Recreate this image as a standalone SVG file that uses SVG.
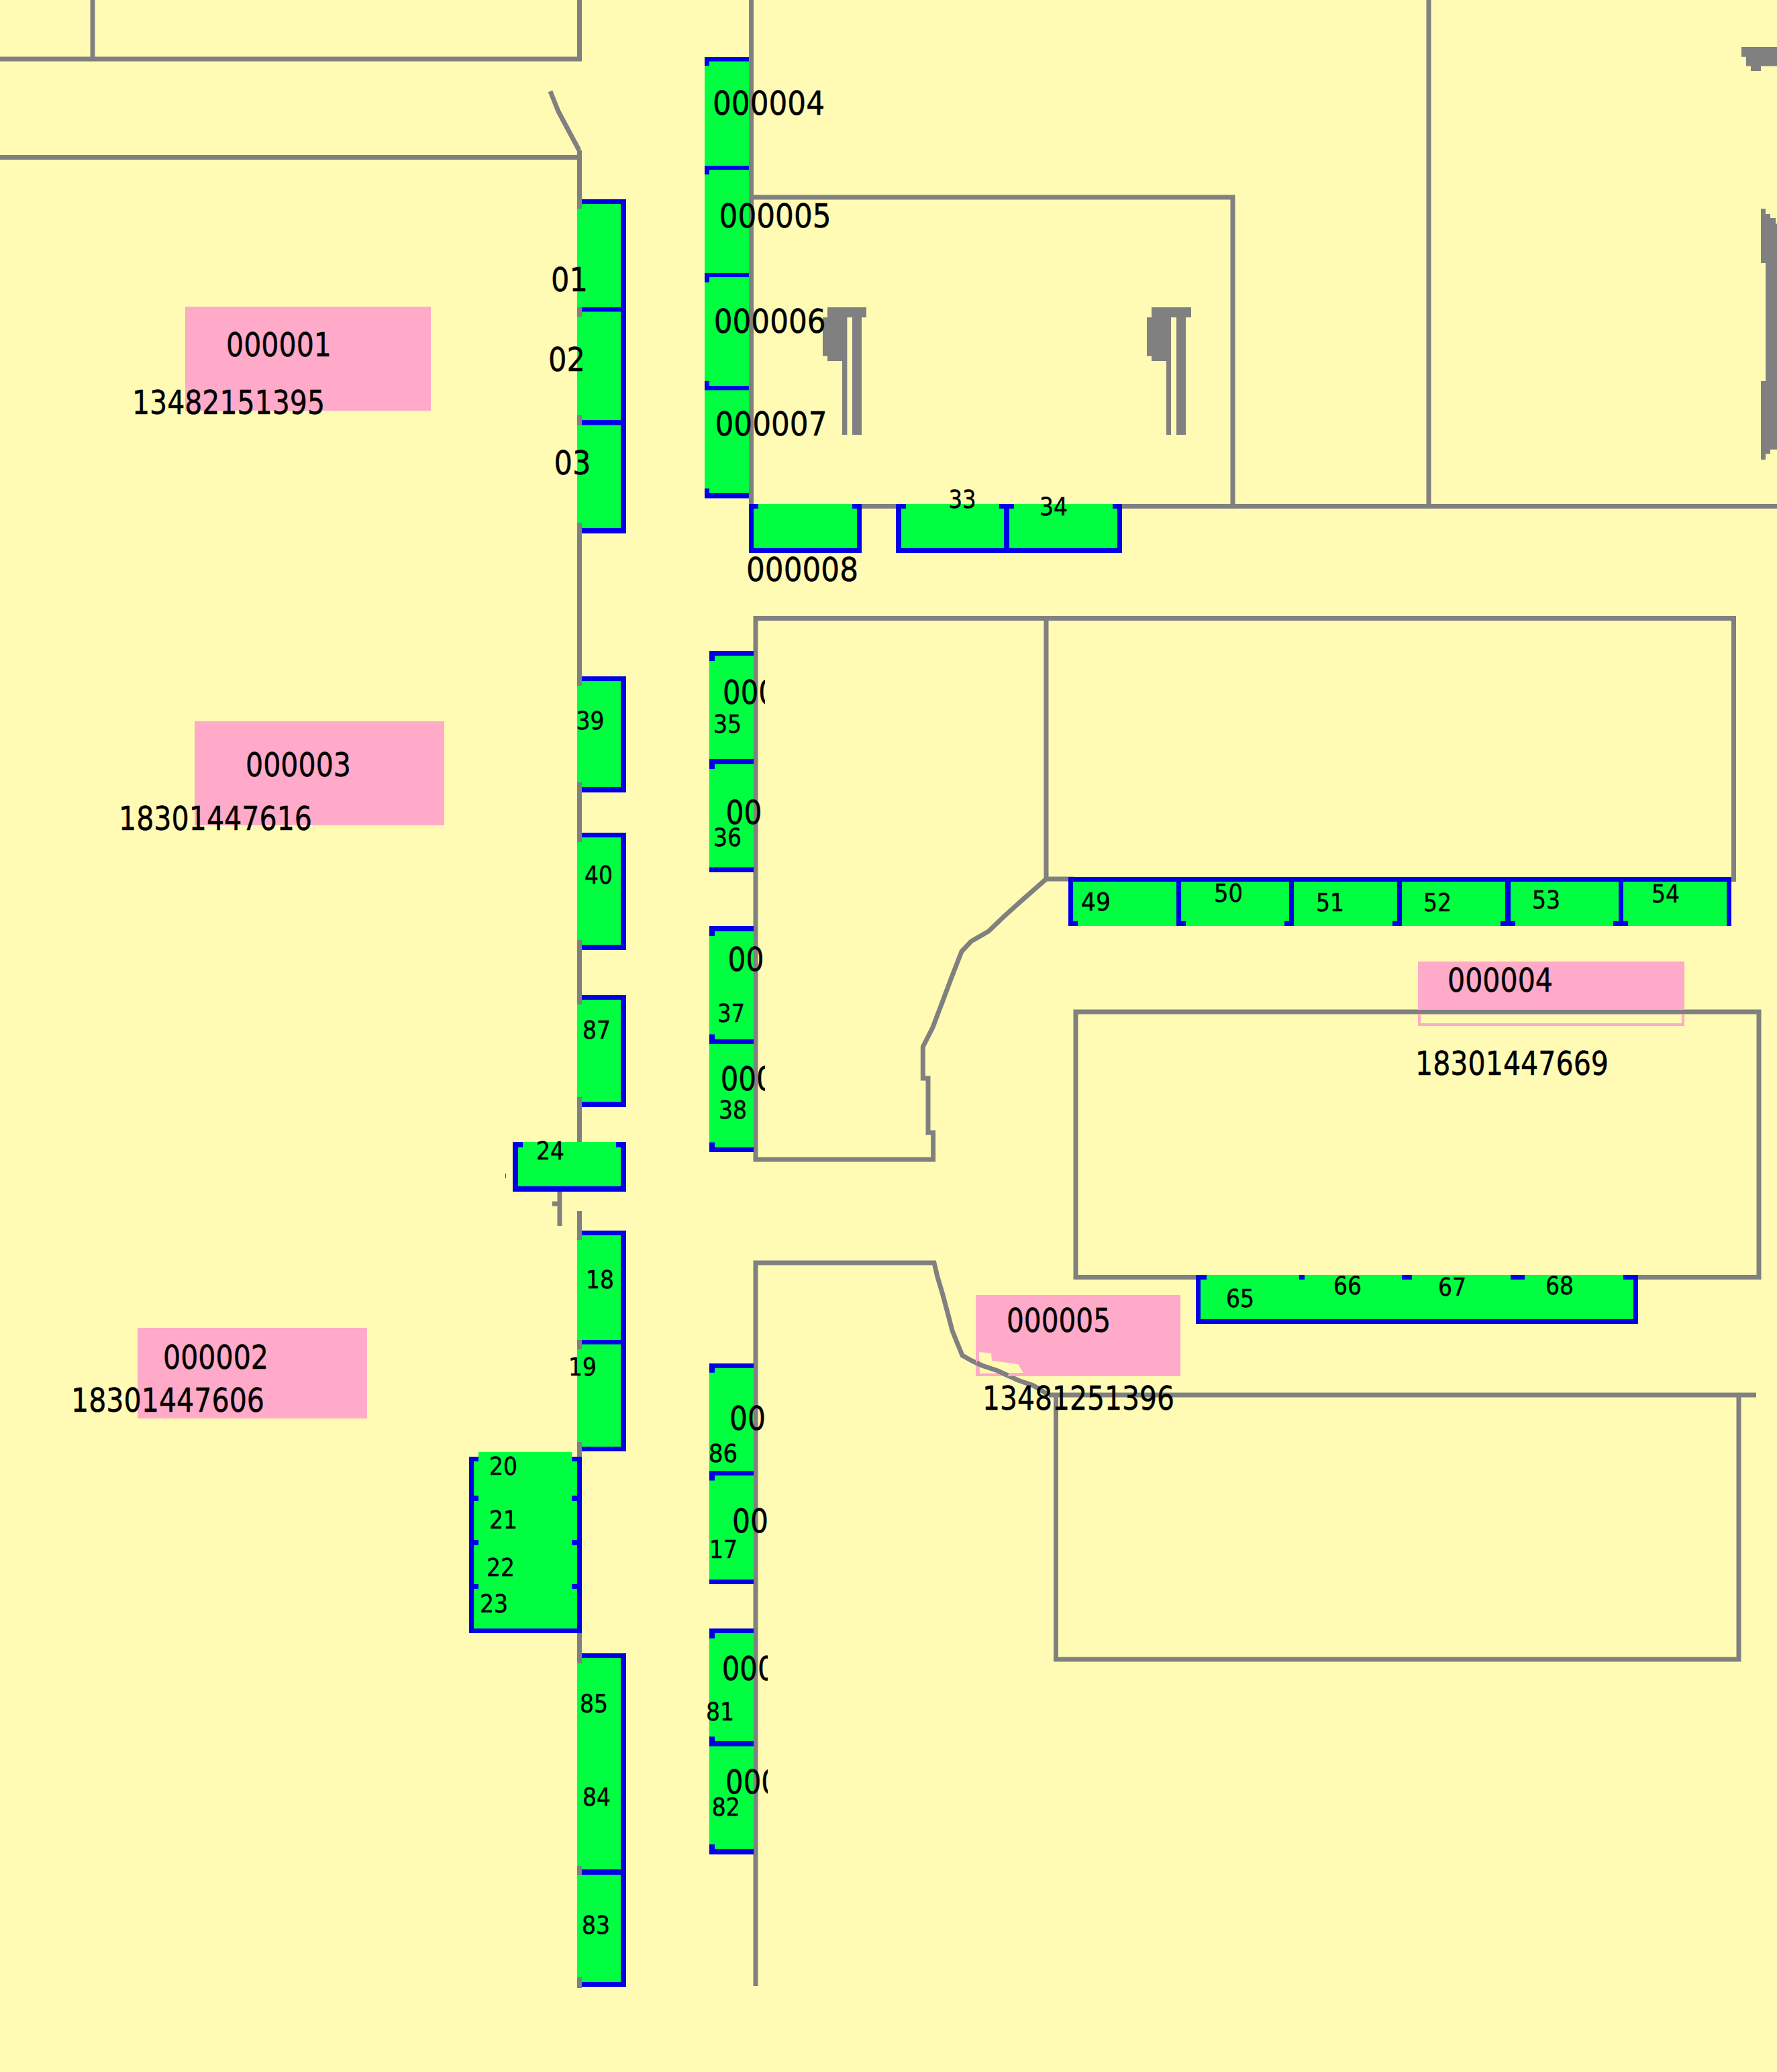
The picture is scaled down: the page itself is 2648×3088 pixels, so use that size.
<svg xmlns="http://www.w3.org/2000/svg" width="2648" height="3088" viewBox="0 0 2648 3088">
<style>
.w{fill:none;stroke:#808080;stroke-width:7}
.f{fill:#808080}
.b{fill:#0000e6}
.g{fill:#00ff40}
.p{fill:#ffaac8}
text{font-family:"DejaVu Sans","Noto Sans",sans-serif;fill:#000;stroke:#000;stroke-width:.5}
.t{font-size:50px}
.s{font-size:38px}
</style>
<defs>
<clipPath id="c1"><rect x="1000" y="900" width="140" height="900"/></clipPath>
<clipPath id="c2"><rect x="1000" y="2000" width="144" height="800"/></clipPath>
</defs>
<rect width="2648" height="3088" fill="#fffbb4"/>
<g id="connectors">
<path class="w" d="M138 0V88M0 88H863.5V0"/>
<path class="w" d="M0 234.5H863.5"/>
<path class="w" d="M820 136L832 166L848 196L863 224"/>
<path class="w" d="M863.5 224V1702"/>
<path class="w" d="M863.5 1805V2963"/>
<path class="w" d="M834 1768V1827M834 1794H823"/>
<path class="w" d="M1119.500 0V754.500H2648"/>
<path class="w" d="M1119.500 294H1837V754.500"/>
<path class="w" d="M2129 0V754.500"/>
<path class="w" d="M1559 1310L1526 1339L1497 1365L1473 1388L1447 1403L1433 1418L1418.600 1455L1404 1494L1390 1531L1375.300 1560V1607H1383V1688H1390.600V1728H1126V921.500H2583.500V1314"/>
<path class="w" d="M1559 921.500V1310H1600"/>
<path class="w" d="M1126 2960V1882H1392L1397 1903L1405 1930L1413 1960L1419 1983L1427 2003L1434 2020L1448 2028L1463 2035L1487 2043L1517 2057L1540 2065L1563 2079"/>
<path class="w" d="M1563 2079H2617M1573.500 2079V2473H2591V2079"/>
<path class="w" d="M1603 1508H2621V1903.500H1603Z"/>
<path class="f" d="M1233 458H1291V473H1284V648H1270V473H1262.400V648H1255V538H1233V530.700H1226V473H1233Z"/>
<path class="f" d="M1716 458H1775V473H1767V648H1753V473H1745V648H1738V538H1716V530.700H1709V473H1716Z"/>
<path class="f" d="M2595 70H2648V98.500H2624V106H2609V98.500H2602V84.700H2595Z"/>
<path class="f" d="M2624 311H2631V319H2638V325H2646V333.600H2648V670H2638V676.600H2631V685H2624V568H2631V392H2624Z"/>
<rect x="753" y="1749" width="1" height="7" fill="#335566"/>
</g>
<g id="p1"><rect class="p" x="276" y="457" width="366" height="155"/><text class="t" x="337" y="531" textLength="157" lengthAdjust="spacingAndGlyphs">000001</text><text class="t" x="197" y="617" textLength="287" lengthAdjust="spacingAndGlyphs">13482151395</text></g>
<g id="p3"><rect class="p" x="290" y="1075" width="372" height="155"/><text class="t" x="366" y="1157" textLength="157" lengthAdjust="spacingAndGlyphs">000003</text><text class="t" x="177" y="1237" textLength="288" lengthAdjust="spacingAndGlyphs">18301447616</text></g>
<g id="p2"><rect class="p" x="205" y="1979" width="342" height="135"/><text class="t" x="243" y="2040" textLength="157" lengthAdjust="spacingAndGlyphs">000002</text><text class="t" x="106" y="2104" textLength="288" lengthAdjust="spacingAndGlyphs">18301447606</text></g>
<g id="p4"><rect class="p" x="2113" y="1433" width="397" height="72"/><path d="M2115 1511V1527H2508V1511" fill="none" stroke="#ffaac8" stroke-width="4"/><text class="t" x="2157" y="1478" textLength="157" lengthAdjust="spacingAndGlyphs">000004</text><text class="t" x="2109" y="1602" textLength="288" lengthAdjust="spacingAndGlyphs">18301447669</text></g>
<g id="p5"><rect class="p" x="1454" y="1930" width="305" height="121"/><path fill="#fffbb4" d="M1459 2015L1477 2017L1478 2028L1517 2033L1525 2046L1460 2047Z"/><path class="w" d="M1455 2031L1463 2035L1487 2043L1502 2050"/><text class="t" x="1500" y="1985" textLength="155" lengthAdjust="spacingAndGlyphs">000005</text><text class="t" x="1464" y="2101" textLength="286" lengthAdjust="spacingAndGlyphs">13481251396</text></g>

<g id="n01"><rect class="b" x="867" y="297" width="66" height="168"/><path class="g" d="M860 311H867V304H925V458H860Z"/><text class="t" x="821" y="433.500" textLength="55" lengthAdjust="spacingAndGlyphs">01</text></g>
<g id="n02"><rect class="b" x="867" y="458" width="66" height="176"/><path class="g" d="M860 472H867V464.500H925V626H867V619H860Z"/><text class="t" x="817" y="553" textLength="55" lengthAdjust="spacingAndGlyphs">02</text></g>
<g id="n03"><rect class="b" x="867" y="626" width="66" height="169"/><path class="g" d="M860 633.500H925V787H867V779H860Z"/><text class="t" x="825.500" y="707" textLength="55" lengthAdjust="spacingAndGlyphs">03</text></g>

<g id="n04"><rect class="b" x="1050" y="85" width="66" height="168"/><path class="g" d="M1057 91.600H1116V247H1050V98H1057Z"/><text class="t" x="1062" y="171" textLength="167" lengthAdjust="spacingAndGlyphs">000004</text></g>
<g id="n05"><rect class="b" x="1050" y="247" width="66" height="166"/><path class="g" d="M1057 253H1116V407H1050V260H1057Z"/><text class="t" x="1071.600" y="338.600" textLength="167" lengthAdjust="spacingAndGlyphs">000005</text></g>
<g id="n06"><rect class="b" x="1050" y="407" width="66" height="175"/><path class="g" d="M1057 413H1116V575H1057V568H1050V420.700H1057Z"/><text class="t" x="1063.700" y="496" textLength="167" lengthAdjust="spacingAndGlyphs">000006</text></g>
<g id="n07"><rect class="b" x="1050" y="575" width="66" height="167.600"/><path class="g" d="M1050 581.500H1116V735H1057V728H1050Z"/><text class="t" x="1065.500" y="649" textLength="167" lengthAdjust="spacingAndGlyphs">000007</text></g>

<g id="n08"><rect class="b" x="1116" y="751" width="168" height="73"/><path class="g" d="M1130 751H1270V758H1277V817H1123V758H1130Z"/><text class="t" x="1112" y="866" textLength="167" lengthAdjust="spacingAndGlyphs">000008</text></g>
<g id="n33"><rect class="b" x="1335" y="751" width="169" height="73"/><path class="g" d="M1350 751H1489V758H1496V817H1343V758H1350Z"/><text class="s" x="1413.500" y="757" textLength="41" lengthAdjust="spacingAndGlyphs">33</text></g>
<g id="n34"><rect class="b" x="1496" y="751" width="176" height="73"/><path class="g" d="M1511 751H1658V758H1665V817H1504V758H1511Z"/><text class="s" x="1549" y="768" textLength="42" lengthAdjust="spacingAndGlyphs">34</text></g>

<g id="n35"><rect class="b" x="1057" y="970" width="66" height="169"/><path class="g" d="M1065 977.600H1123V1131H1057V985H1065Z"/><text class="t" x="1077" y="1049" textLength="80" lengthAdjust="spacingAndGlyphs" clip-path="url(#c1)">000</text><text class="s" x="1063" y="1091.700" textLength="42" lengthAdjust="spacingAndGlyphs">35</text></g>
<g id="n36"><rect class="b" x="1057" y="1131" width="66" height="169"/><path class="g" d="M1065 1139H1123V1292.500H1057V1146H1065Z"/><text class="t" x="1081.600" y="1227.700" textLength="54" lengthAdjust="spacingAndGlyphs" clip-path="url(#c1)">00</text><text class="s" x="1063" y="1260.600" textLength="42" lengthAdjust="spacingAndGlyphs">36</text></g>
<g id="n37"><rect class="b" x="1057" y="1380" width="66" height="176"/><path class="g" d="M1065 1388H1123V1549H1065V1541.500H1057V1395H1065Z"/><text class="t" x="1084.400" y="1447" textLength="54" lengthAdjust="spacingAndGlyphs" clip-path="url(#c1)">00</text><text class="s" x="1069" y="1523" textLength="41" lengthAdjust="spacingAndGlyphs">37</text></g>
<g id="n38"><rect class="b" x="1057" y="1549" width="66" height="168"/><path class="g" d="M1057 1556H1123V1710H1065V1702.500H1057Z"/><text class="t" x="1073.700" y="1625" textLength="80" lengthAdjust="spacingAndGlyphs" clip-path="url(#c1)">000</text><text class="s" x="1071" y="1667" textLength="42" lengthAdjust="spacingAndGlyphs">38</text></g>

<g id="n39"><rect class="b" x="867" y="1008" width="66" height="173"/><path class="g" d="M860 1022H867V1015H925V1173H867V1166H860Z"/><text class="s" x="858.500" y="1087" textLength="42" lengthAdjust="spacingAndGlyphs">39</text></g>
<g id="n40"><rect class="b" x="867" y="1241" width="66" height="175"/><path class="g" d="M860 1255H867V1248H925V1408H867V1401H860Z"/><text class="s" x="871" y="1317" textLength="42" lengthAdjust="spacingAndGlyphs">40</text></g>
<g id="n87"><rect class="b" x="867" y="1483" width="66" height="167"/><path class="g" d="M860 1497H867V1490H925V1642H867V1635H860Z"/><text class="s" x="868" y="1548" textLength="42" lengthAdjust="spacingAndGlyphs">87</text></g>

<g id="n24"><rect class="b" x="764" y="1702" width="169" height="74"/><path class="g" d="M779 1702H918V1710H925V1768H772V1710H779Z"/><text class="s" x="799" y="1728" textLength="42" lengthAdjust="spacingAndGlyphs">24</text></g>

<g id="n18"><rect class="b" x="867" y="1834" width="66" height="170"/><path class="g" d="M860 1848H867V1841H925V1997H860Z"/><text class="s" x="873" y="1920" textLength="42" lengthAdjust="spacingAndGlyphs">18</text></g>
<g id="n19"><rect class="b" x="867" y="1997" width="66" height="166"/><path class="g" d="M860 2011H867V2003.500H925V2156H867V2149H860Z"/><text class="s" x="847" y="2050" textLength="42" lengthAdjust="spacingAndGlyphs">19</text></g>

<g id="n20"><rect class="b" x="699" y="2171" width="168" height="66"/><path class="g" d="M713 2164H852V2178H860V2229H852V2237H713V2229H706V2178H713Z"/><text class="s" x="729" y="2198" textLength="42" lengthAdjust="spacingAndGlyphs">20</text></g>
<g id="n21"><rect class="b" x="699" y="2229" width="168" height="74"/><path class="g" d="M713 2229H852V2237H860V2295H852V2303H713V2295H706V2237H713Z"/><text class="s" x="729" y="2278" textLength="42" lengthAdjust="spacingAndGlyphs">21</text></g>
<g id="n22"><rect class="b" x="699" y="2295" width="168" height="73"/><path class="g" d="M713 2295H852V2303H860V2361H852V2368H713V2361H706V2303H713Z"/><text class="s" x="725" y="2349" textLength="42" lengthAdjust="spacingAndGlyphs">22</text></g>
<g id="n23"><rect class="b" x="699" y="2361" width="168" height="73"/><path class="g" d="M713 2361H852V2368H860V2427H706V2368H713Z"/><text class="s" x="715" y="2403" textLength="42" lengthAdjust="spacingAndGlyphs">23</text></g>

<g id="n86"><rect class="b" x="1057" y="2032" width="66" height="167"/><path class="g" d="M1065 2039H1123V2192.600H1057V2045.700H1065Z"/><text class="t" x="1087" y="2130.500" textLength="54" lengthAdjust="spacingAndGlyphs" clip-path="url(#c2)">00</text><text class="s" x="1056" y="2178.500" textLength="43" lengthAdjust="spacingAndGlyphs">86</text></g>
<g id="n17"><rect class="b" x="1057" y="2192.600" width="66" height="168.400"/><path class="g" d="M1065 2199H1123V2354H1057V2206.600H1065Z"/><text class="t" x="1091" y="2284" textLength="54" lengthAdjust="spacingAndGlyphs" clip-path="url(#c2)">00</text><text class="s" x="1057" y="2321.500" textLength="42" lengthAdjust="spacingAndGlyphs">17</text></g>
<g id="n81"><rect class="b" x="1057" y="2427" width="66" height="176"/><path class="g" d="M1065 2434H1123V2595H1065V2588H1057V2441.700H1065Z"/><text class="t" x="1075.700" y="2504" textLength="80" lengthAdjust="spacingAndGlyphs" clip-path="url(#c2)">000</text><text class="s" x="1052" y="2564" textLength="42" lengthAdjust="spacingAndGlyphs">81</text></g>
<g id="n82"><rect class="b" x="1057" y="2595" width="66" height="168.600"/><path class="g" d="M1057 2602.600H1123V2756H1065V2748.600H1057Z"/><text class="t" x="1081" y="2673" textLength="80" lengthAdjust="spacingAndGlyphs" clip-path="url(#c2)">000</text><text class="s" x="1060.700" y="2706" textLength="42" lengthAdjust="spacingAndGlyphs">82</text></g>

<g id="n85"><rect class="b" x="867" y="2464" width="66" height="163"/><path class="g" d="M860 2479H867V2471H925V2630H860Z"/><text class="s" x="864" y="2552" textLength="42" lengthAdjust="spacingAndGlyphs">85</text></g>
<g id="n84"><rect class="b" x="867" y="2625" width="66" height="169"/><path class="g" d="M860 2625H925V2786H867V2781H860Z"/><text class="s" x="868" y="2691" textLength="42" lengthAdjust="spacingAndGlyphs">84</text></g>
<g id="n83"><rect class="b" x="867" y="2786" width="66" height="175"/><path class="g" d="M860 2794H925V2954H867V2947H860Z"/><text class="s" x="867" y="2882" textLength="42" lengthAdjust="spacingAndGlyphs">83</text></g>

<g id="n49"><rect class="b" x="1592" y="1307" width="168" height="73"/><path class="g" d="M1599 1314H1753V1372.700H1767V1380H1606V1372.700H1599Z"/><text class="s" x="1611" y="1356.700" textLength="44" lengthAdjust="spacingAndGlyphs">49</text></g>
<g id="n50"><rect class="b" x="1753" y="1307" width="175" height="73"/><path class="g" d="M1760 1314H1921V1372.700H1914V1380H1767V1372.700H1760Z"/><text class="s" x="1809" y="1344" textLength="43" lengthAdjust="spacingAndGlyphs">50</text></g>
<g id="n51"><rect class="b" x="1921" y="1307" width="168" height="73"/><path class="g" d="M1928 1314H2082V1372.700H2075V1380H1928Z"/><text class="s" x="1961" y="1358" textLength="42" lengthAdjust="spacingAndGlyphs">51</text></g>
<g id="n52"><rect class="b" x="2082" y="1307" width="169" height="73"/><path class="g" d="M2089 1314H2243V1372.700H2236V1380H2089Z"/><text class="s" x="2121" y="1358" textLength="42" lengthAdjust="spacingAndGlyphs">52</text></g>
<g id="n53"><rect class="b" x="2243" y="1307" width="176" height="73"/><path class="g" d="M2251 1314H2412V1372.700H2404V1380H2258V1372.700H2251Z"/><text class="s" x="2283" y="1354" textLength="42" lengthAdjust="spacingAndGlyphs">53</text></g>
<g id="n54"><rect class="b" x="2412" y="1307" width="168" height="73"/><path class="g" d="M2419 1314H2573V1380H2426V1372.700H2419Z"/><text class="s" x="2461" y="1345" textLength="42" lengthAdjust="spacingAndGlyphs">54</text></g>

<g id="n65"><rect class="b" x="1782" y="1900" width="659" height="73"/><path class="g" d="M1798 1900H1936V1907H1944V1900H2089V1907H2104V1900H2251V1907H2272V1900H2419V1907H2434V1966H1789V1907H1798Z"/><text class="s" x="1827" y="1948" textLength="42" lengthAdjust="spacingAndGlyphs">65</text></g>
<g id="n66"><text class="s" x="1987" y="1929" textLength="42" lengthAdjust="spacingAndGlyphs">66</text></g>
<g id="n67"><text class="s" x="2143" y="1931" textLength="42" lengthAdjust="spacingAndGlyphs">67</text></g>
<g id="n68"><text class="s" x="2303" y="1929" textLength="42" lengthAdjust="spacingAndGlyphs">68</text></g>
</svg>
